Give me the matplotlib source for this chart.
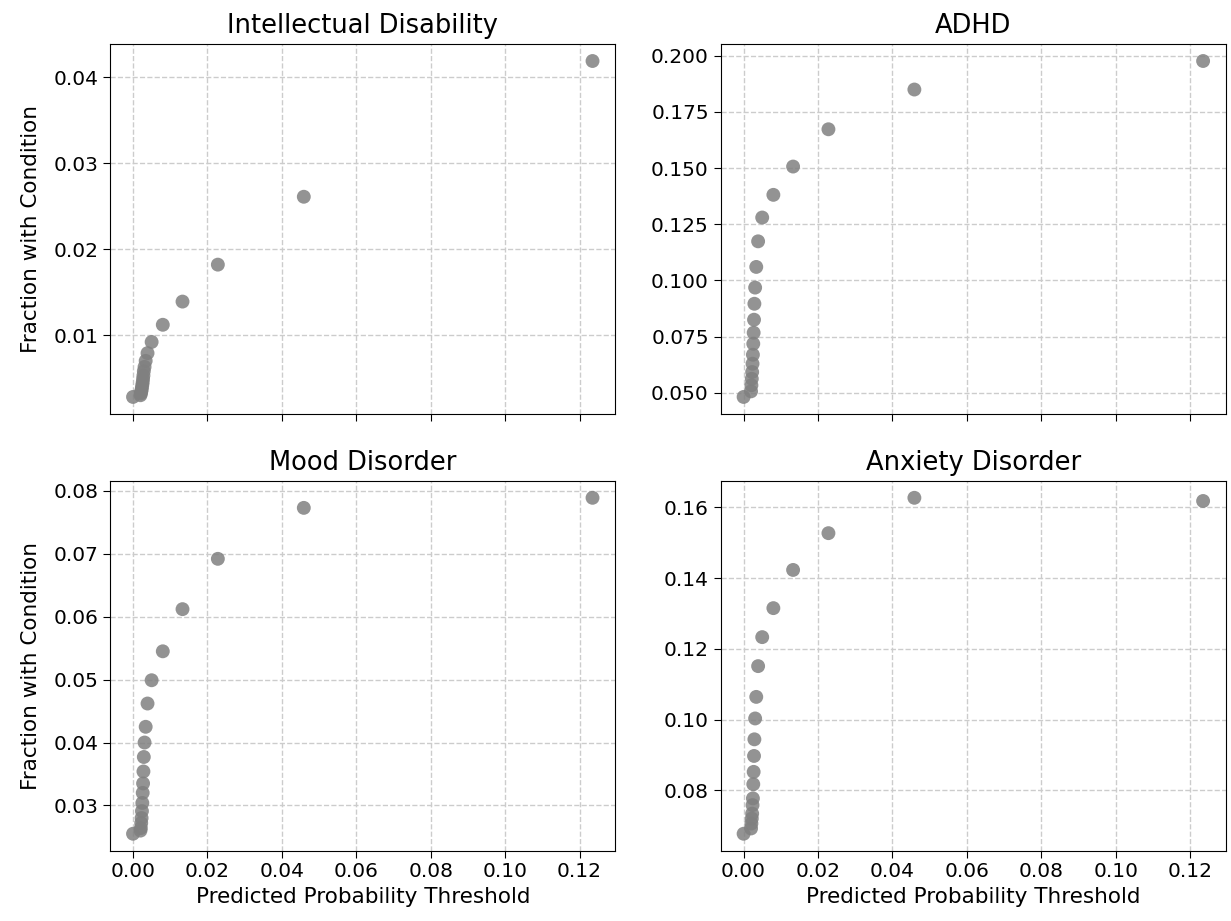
import numpy as np
import matplotlib.pyplot as plt
from matplotlib.ticker import MultipleLocator

# prediction thresholds (shared by all panels)
thresholds = [0.0, 0.0020, 0.0021, 0.0022, 0.0023, 0.0024, 0.0025, 0.0026, 0.0027,
              0.0028, 0.0029, 0.0031, 0.0034, 0.0039, 0.0050, 0.0080, 0.0133,
              0.0228, 0.0459, 0.1235]

intellectual = [0.0028, 0.0030, 0.0032, 0.0034, 0.0036, 0.0039, 0.0042, 0.0045,
                0.0049, 0.0053, 0.0058, 0.0063, 0.0070, 0.0079, 0.0092, 0.0112,
                0.0139, 0.0182, 0.0261, 0.0419]
adhd = [0.0481, 0.0506, 0.0533, 0.0562, 0.0592, 0.0629, 0.0669, 0.0718, 0.0767,
        0.0825, 0.0896, 0.0968, 0.1060, 0.1174, 0.1280, 0.1381, 0.1507, 0.1673,
        0.1850, 0.1977]
mood = [0.0255, 0.0260, 0.0264, 0.0272, 0.0280, 0.0291, 0.0304, 0.0320, 0.0335,
        0.0354, 0.0377, 0.0400, 0.0425, 0.0462, 0.0499, 0.0545, 0.0612, 0.0692,
        0.0773, 0.0789]
anxiety = [0.0677, 0.0692, 0.0706, 0.0720, 0.0734, 0.0758, 0.0777, 0.0817, 0.0852,
           0.0897, 0.0944, 0.1003, 0.1064, 0.1151, 0.1233, 0.1315, 0.1423, 0.1527,
           0.1627, 0.1618]

titles = ['Intellectual Disability', 'ADHD', 'Mood Disorder', 'Anxiety Disorder']
series = [intellectual, adhd, mood, anxiety]
y_steps = [0.01, 0.025, 0.01, 0.02]

fig, axes = plt.subplots(2, 2, figsize=(12.31, 9.21), dpi=100, sharex=True)
plt.subplots_adjust(left=0.0894, right=0.996, top=0.952, bottom=0.0765,
                    wspace=0.208, hspace=0.182)

for ax, title, y, step in zip(axes.flat, titles, series, y_steps):
    ax.scatter(thresholds, y, s=100, color='gray', alpha=0.85, edgecolors='none', zorder=3)
    ax.set_title(title, fontsize=18.5, pad=8)
    ax.grid(True, linestyle='--', color='#cccccc', linewidth=1)
    ax.yaxis.set_major_locator(MultipleLocator(step))
    ax.tick_params(labelsize=14.5, length=5)

for ax in axes[:, 0]:
    ax.set_ylabel('Fraction with Condition', fontsize=15.5, labelpad=9)
for ax in axes[1, :]:
    ax.set_xlabel('Predicted Probability Threshold', fontsize=15.5)
    ax.set_xticks(np.arange(0, 0.121, 0.02))

plt.savefig('out.png')
